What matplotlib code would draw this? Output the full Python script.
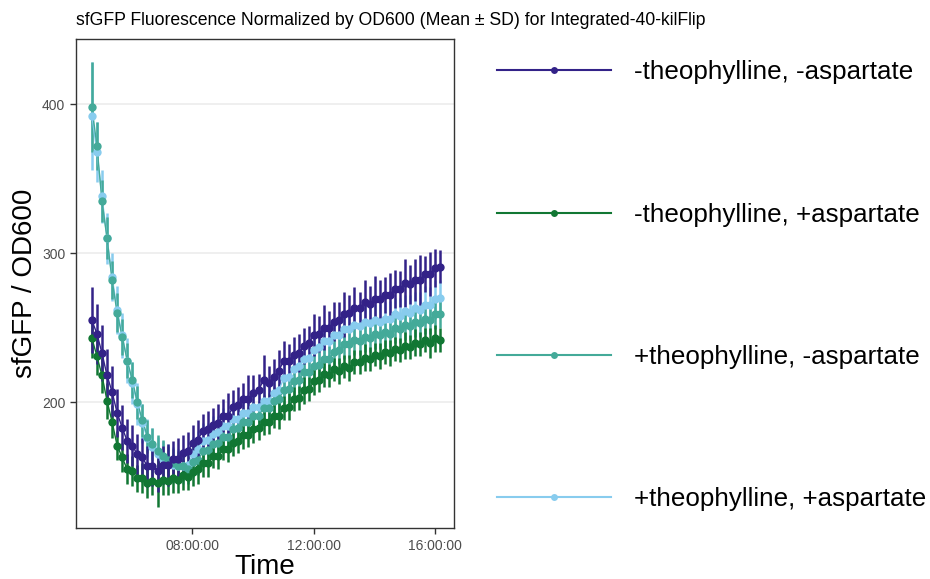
import matplotlib
matplotlib.use("Agg")
import matplotlib.pyplot as plt
from matplotlib.lines import Line2D
from matplotlib.ticker import FuncFormatter
import numpy as np

plt.rcParams['font.family'] = ['Liberation Sans', 'DejaVu Sans']

# sampling times, hours since midnight (10 min readings from 04:41)
start_h = 4 + 41 / 60
n_reads = 70
time_h = start_h + np.arange(n_reads) / 6

labels = ['-theophylline, -aspartate', '-theophylline, +aspartate',
          '+theophylline, -aspartate', '+theophylline, +aspartate']
colors = ['#332288', '#117733', '#44AA99', '#88CCEE']

mean_nt_na = [255, 246, 233, 218, 207, 193, 183, 174, 171, 165,
              163, 157, 157, 154, 158, 158, 162, 162, 166, 167,
              173, 175, 181, 182, 185, 186, 191, 191, 197, 198,
              202, 202, 206, 208, 215, 213, 217, 221, 228, 228,
              232, 233, 238, 240, 245, 246, 250, 250, 254, 255,
              259, 260, 263, 263, 267, 266, 269, 269, 272, 272,
              276, 276, 280, 279, 282, 282, 286, 286, 290, 291]
sd_nt_na = [22, 20, 19, 18, 17, 16, 15, 15, 14, 14,
            13, 14, 13, 14, 13, 14, 12, 14, 12, 13,
            12, 13, 11, 12, 11, 13, 11, 15, 11, 12,
            11, 16, 12, 11, 17, 11, 12, 14, 13, 11,
            12, 13, 12, 11, 14, 12, 15, 11, 13, 12,
            15, 12, 14, 11, 15, 12, 16, 13, 12, 15,
            13, 12, 16, 13, 14, 17, 12, 15, 13, 11]

mean_nt_pa = [243, 231, 218, 201, 187, 171, 163, 155, 154, 149,
              149, 146, 147, 146, 148, 147, 149, 148, 151, 150,
              153, 155, 159, 159, 164, 164, 169, 169, 173, 174,
              178, 178, 182, 183, 187, 187, 191, 191, 196, 197,
              202, 203, 208, 209, 214, 215, 219, 218, 222, 221,
              224, 223, 227, 227, 230, 229, 232, 231, 234, 233,
              236, 235, 238, 237, 240, 239, 242, 240, 243, 242]
sd_nt_pa = [13, 13, 12, 12, 11, 10, 10, 10, 10, 9,
            10, 10, 9, 16, 10, 9, 10, 9, 10, 9,
            9, 10, 9, 9, 8, 9, 8, 9, 9, 8,
            9, 8, 9, 8, 9, 8, 8, 9, 8, 9,
            8, 8, 9, 8, 9, 8, 9, 8, 8, 9,
            8, 9, 8, 8, 9, 8, 8, 9, 8, 9,
            8, 8, 9, 8, 9, 8, 8, 10, 9, 8]

mean_pt_na = [398, 372, 335, 310, 282, 260, 244, 228, 215, 200,
              188, 177, 172, 167, 164, 161, 159, 157, 157, 155,
              160, 161, 167, 168, 172, 173, 177, 177, 182, 183,
              187, 187, 191, 191, 196, 196, 201, 202, 208, 209,
              214, 215, 220, 220, 224, 225, 229, 229, 234, 235,
              239, 239, 242, 241, 244, 243, 246, 245, 247, 246,
              250, 249, 252, 251, 254, 253, 256, 255, 259, 259]
sd_pt_na = [30, 16, 14, 14, 13, 13, 12, 12, 12, 11,
            11, 11, 11, 11, 11, 10, 10, 10, 10, 10,
            10, 10, 9, 10, 9, 10, 9, 10, 9, 10,
            9, 10, 9, 10, 9, 10, 9, 10, 9, 10,
            10, 9, 10, 9, 10, 9, 10, 9, 10, 9,
            10, 9, 10, 9, 10, 9, 10, 9, 10, 9,
            10, 9, 10, 9, 10, 9, 10, 9, 10, 9]

mean_pt_pa = [392, 368, 338, 310, 284, 262, 245, 228, 213, 199,
              186, 176, 170, 165, 162, 160, 158, 157, 157, 158,
              165, 169, 174, 175, 179, 180, 184, 184, 189, 189,
              193, 193, 197, 197, 201, 201, 206, 208, 216, 217,
              222, 224, 229, 230, 235, 237, 241, 241, 245, 245,
              249, 249, 252, 251, 254, 253, 255, 254, 256, 256,
              259, 258, 261, 260, 263, 262, 265, 265, 269, 270]
sd_pt_pa = [36, 20, 18, 17, 16, 16, 15, 15, 14, 14,
            13, 13, 13, 12, 12, 12, 12, 12, 12, 12,
            12, 12, 12, 11, 12, 11, 12, 11, 12, 11,
            12, 11, 12, 11, 12, 11, 12, 11, 12, 11,
            12, 12, 11, 12, 11, 12, 11, 12, 11, 12,
            11, 12, 11, 12, 11, 12, 11, 12, 11, 12,
            11, 12, 11, 12, 11, 12, 13, 12, 13, 12]

means = [mean_nt_na, mean_nt_pa, mean_pt_na, mean_pt_pa]
sds = [sd_nt_na, sd_nt_pa, sd_pt_na, sd_pt_pa]

fig = plt.figure(figsize=(9.3, 5.79), dpi=100)
ax = fig.add_axes([0.0814, 0.0876, 0.4066, 0.845])

# draw light series first so the dark blue ends on top
draw_order = [3, 2, 1, 0]
for k in draw_order:
    m = np.array(means[k])
    s = np.array(sds[k])
    ax.vlines(time_h, m - s, m + s, color=colors[k], lw=1.8, zorder=2)
for k in draw_order:
    ax.plot(time_h, means[k], color=colors[k], lw=1.0, zorder=3)
    ax.plot(time_h, means[k], 'o', color=colors[k], ms=6, mew=0, zorder=4)

ax.set_xlim(4.15, 16.63)
ax.set_ylim(115.5, 443.6)
ax.set_xticks([8, 12, 16])
ax.xaxis.set_major_formatter(FuncFormatter(lambda v, p: f"{int(v):02d}:00:00"))
ax.set_yticks([200, 300, 400])
ax.yaxis.grid(True, color='#EBEBEB', lw=1.1, zorder=0)
ax.set_axisbelow(True)
for sp in ax.spines.values():
    sp.set_color('#333333')
    sp.set_linewidth(1.0)
ax.tick_params(axis='both', colors='#333333', labelcolor='#4D4D4D',
               labelsize=10, length=4, width=1)

ax.set_xlabel('Time', fontsize=20, labelpad=1)
ax.set_ylabel('sfGFP / OD600', fontsize=20, labelpad=3)
ax.set_title('sfGFP Fluorescence Normalized by OD600 (Mean \u00b1 SD) for Integrated-40-kilFlip',
             fontsize=12.7, loc='left', pad=10)

handles = [Line2D([0], [0], color=c, lw=1.5, marker='o', ms=5, mew=0)
           for c in colors]
fig.legend(handles, labels, loc='center left', bbox_to_anchor=(0.534, 0.5065),
           frameon=False, fontsize=18.7, handlelength=4.4, handletextpad=0.9,
           labelspacing=4.55, borderpad=0, borderaxespad=0)

fig.savefig('out.png', dpi=100)
